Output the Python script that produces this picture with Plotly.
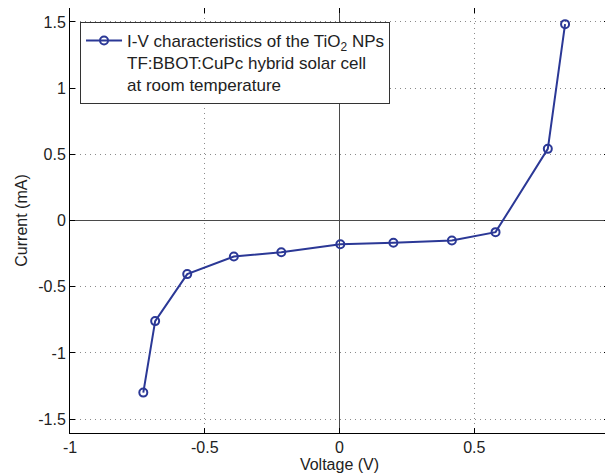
import plotly.graph_objects as go

voltage = [-0.728, -0.684, -0.565, -0.392, -0.216, 0.003, 0.20, 0.417, 0.579, 0.773, 0.837]
current = [-1.30, -0.76, -0.405, -0.272, -0.24, -0.179, -0.168, -0.151, -0.088, 0.541, 1.483]
x_ticks = [-1, -0.5, 0, 0.5, 1]
x_tick_labels = ["-1", "-0.5", "0", "0.5", "1"]
y_ticks = [-1.5, -1, -0.5, 0, 0.5, 1, 1.5]
y_tick_labels = ["-1.5", "-1", "-0.5", "0", "0.5", "1", "1.5"]
legend_label = ("I-V characteristics of the TiO<sub>2</sub> NPs<br>"
                "TF:BBOT:CuPc hybrid solar cell<br>at room temperature")

color = "#2b3896"
font_family = "Liberation Sans, Arial, sans-serif"

fig = go.Figure()
fig.add_trace(go.Scatter(
    x=voltage, y=current, mode="lines+markers", name=legend_label,
    line=dict(color=color, width=2),
    marker=dict(symbol="circle-open", size=8, color=color, line=dict(width=2, color=color)),
))

axis_common = dict(
    showline=True, linecolor="black", linewidth=1, mirror="ticks",
    ticks="inside", ticklen=5, tickcolor="black",
    showgrid=True, gridcolor="#8a8a8a", griddash="1px,4px", gridwidth=1,
    zeroline=True, zerolinecolor="#4a4a4a", zerolinewidth=1.3,
    tickfont=dict(size=16, color="#222222", family=font_family),
    automargin=False,
)

# page body has an 8px default margin, so the figure is 8px smaller
fig.update_layout(
    width=605, height=467,
    margin=dict(l=62, r=4, t=0, b=42),
    paper_bgcolor="white", plot_bgcolor="white",
    font=dict(family=font_family, size=16, color="#222222"),
    xaxis=dict(range=[-1, 1], tickvals=x_ticks, ticktext=x_tick_labels,
               title=dict(text="Voltage (V)", standoff=2, font=dict(size=16)), **axis_common),
    yaxis=dict(range=[-1.605, 1.605], tickvals=y_ticks, ticktext=y_tick_labels,
               title=dict(text="Current (mA)", standoff=6, font=dict(size=16)), **axis_common),
    showlegend=True,
    legend=dict(x=0.0186, y=0.967, xanchor="left", yanchor="top",
                bgcolor="white", bordercolor="#333333", borderwidth=1,
                font=dict(size=17, color="#222222", family=font_family),
                valign="top", itemwidth=36, tracegroupgap=0),
)

fig.write_html("out.html")
